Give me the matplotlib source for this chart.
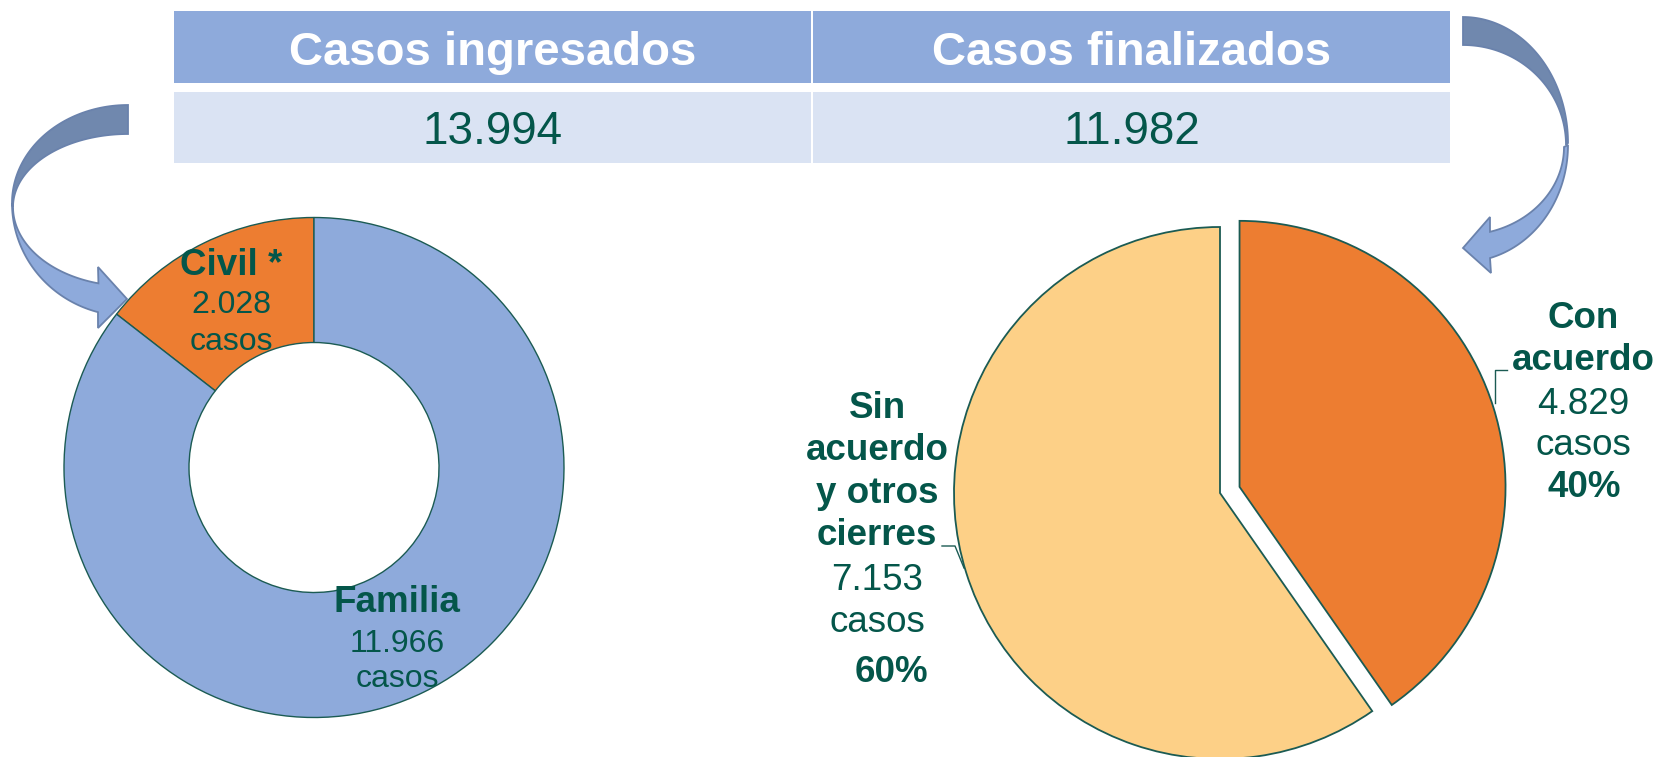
import matplotlib
matplotlib.use('Agg')
import matplotlib.pyplot as plt
from matplotlib.patches import Rectangle, Polygon
import numpy as np

plt.rcParams['font.family'] = ['Liberation Sans', 'DejaVu Sans']

# ---------------- data ----------------
header_labels = ['Casos ingresados', 'Casos finalizados']
header_totals = [13994, 11982]

donut_labels = ['Civil *', 'Familia']
donut_values = [2028, 11966]

pie_labels = ['Con\nacuerdo', 'Sin\nacuerdo\ny otros\ncierres']
pie_values = [4829, 7153]

# ---------------- style ----------------
TXT = '#04564A'
EDGE = '#1B5B53'
BLUE = '#8EAADB'
BLUE_LIGHT = '#DAE3F3'
ORANGE = '#ED7D31'
YELLOW = '#FDD087'
ARROW_DARK = '#7088AE'
ARROW_EDGE = '#6A82AC'

W, H = 1660, 757


def fmt(v):
    return f"{v:,}".replace(',', '.')


fig = plt.figure(figsize=(W / 100, H / 100), dpi=100)


def px_axes(cx, cy, r):
    return fig.add_axes([(cx - r) / W, (H - (cy + r)) / H, 2 * r / W, 2 * r / H])


# ---------------- donut (left) ----------------
ax1 = px_axes(314, 467.5, 250)
w1, _ = ax1.pie(donut_values, colors=[ORANGE, BLUE], startangle=90,
                counterclock=True, radius=1,
                wedgeprops=dict(width=0.5, edgecolor=EDGE, linewidth=1.0))
ax1.set_xlim(-1, 1)
ax1.set_ylim(-1, 1)
for w in w1:
    w.set_clip_on(False)

# ---------------- pie (right) ----------------
ax2 = px_axes(1220, 493, 266)
w2, _ = ax2.pie(pie_values, colors=[ORANGE, YELLOW], startangle=90,
                counterclock=False, radius=1, explode=[0.077, 0],
                wedgeprops=dict(edgecolor=EDGE, linewidth=1.3))
ax2.set_xlim(-1, 1)
ax2.set_ylim(-1, 1)
for w in w2:
    w.set_clip_on(False)

# ---------------- overlay in pixel coordinates ----------------
ax0 = fig.add_axes([0, 0, 1, 1], zorder=10)
ax0.set_xlim(0, W)
ax0.set_ylim(H, 0)
ax0.axis('off')

# table
cols = [(174, 811), (813, 1450)]
for (x0, x1), lab, tot in zip(cols, header_labels, header_totals):
    ax0.add_patch(Rectangle((x0, 11), x1 - x0, 72, facecolor=BLUE, edgecolor='none'))
    ax0.add_patch(Rectangle((x0, 92), x1 - x0, 71, facecolor=BLUE_LIGHT, edgecolor='none'))
    xc = (x0 + x1) / 2
    ax0.text(xc, 65, lab, ha='center', va='baseline', color='white',
             fontsize=34, fontweight='bold')
    ax0.text(xc, 144, fmt(tot), ha='center', va='baseline', color=TXT, fontsize=33)


# arrows
def arc(cx, cy, rx, ry, t0, t1, n=60):
    t = np.radians(np.linspace(t0, t1, n))
    return np.column_stack([cx + rx * np.cos(t), cy - ry * np.sin(t)])


def draw_poly(pts, fc):
    ax0.add_patch(Polygon(pts, closed=True, facecolor=fc, edgecolor=ARROW_EDGE,
                          linewidth=1.3, joinstyle='miter'))


# left arrow
dark = np.vstack([arc(128, 203, 116, 98, 90, 180), arc(128, 207, 115, 73, 180, 90)])
draw_poly(dark, ARROW_DARK)
light = np.vstack([arc(128, 203, 116, 113, 180, 255.0),
                   [[98, 328], [127, 299], [98, 267]],
                   arc(128, 207, 115, 79, 255.1, 180)])
draw_poly(light, BLUE)

# right arrow
dark = np.vstack([arc(1463, 143, 105, 126, 90, 0), arc(1463, 145, 103, 100, 0, 90)])
draw_poly(dark, ARROW_DARK)
light = np.vstack([arc(1463, 145, 105, 117, 0, -75.1),
                   [[1491, 273], [1463, 248], [1490, 217]],
                   arc(1463, 147, 101, 88, -74.5, 0)])
draw_poly(light, BLUE)

# donut labels
ax0.text(231, 275, donut_labels[0], ha='center', va='baseline', color=TXT,
         fontsize=26.5, fontweight='bold')
ax0.text(231, 313, fmt(donut_values[0]), ha='center', va='baseline', color=TXT, fontsize=23)
ax0.text(231, 350, 'casos', ha='center', va='baseline', color=TXT, fontsize=23)

ax0.text(397, 612, donut_labels[1], ha='center', va='baseline', color=TXT,
         fontsize=26.5, fontweight='bold')
ax0.text(397, 652, fmt(donut_values[1]), ha='center', va='baseline', color=TXT, fontsize=23)
ax0.text(397, 687, 'casos', ha='center', va='baseline', color=TXT, fontsize=23)

# pie labels
tot2 = sum(pie_values)
pcts = [round(v / tot2 * 100) for v in pie_values]

# Con acuerdo
y = 328
for line in pie_labels[0].split('\n'):
    ax0.text(1583, y, line, ha='center', va='baseline', color=TXT, fontsize=26.5, fontweight='bold')
    y += 42
ax0.text(1583, 414, fmt(pie_values[0]), ha='center', va='baseline', color=TXT, fontsize=26.5)
ax0.text(1583, 455, 'casos', ha='center', va='baseline', color=TXT, fontsize=26.5)
ax0.text(1584, 497, f"{pcts[0]}%", ha='center', va='baseline', color=TXT, fontsize=26.5, fontweight='bold')
ax0.plot([1507, 1495, 1495], [370, 370, 403], color=EDGE, lw=1.0)

# Sin acuerdo
y = 418
for line in pie_labels[1].split('\n'):
    ax0.text(877, y, line, ha='center', va='baseline', color=TXT, fontsize=26.5, fontweight='bold')
    y += 42.3
ax0.text(877, 590, fmt(pie_values[1]), ha='center', va='baseline', color=TXT, fontsize=26.5)
ax0.text(877, 632, 'casos', ha='center', va='baseline', color=TXT, fontsize=26.5)
ax0.text(891, 682, f"{pcts[1]}%", ha='center', va='baseline', color=TXT, fontsize=26.5, fontweight='bold')
ax0.plot([942, 955, 964], [546, 546, 568], color=EDGE, lw=1.0)

fig.savefig('out.png', dpi=100)
